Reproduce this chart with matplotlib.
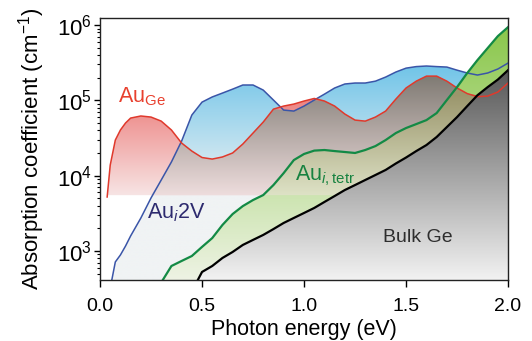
import numpy as np
import matplotlib
matplotlib.use('Agg')
import matplotlib.pyplot as plt

plt.rcParams['font.family'] = ['Liberation Sans', 'DejaVu Sans']
plt.rcParams['mathtext.fontset'] = 'custom'
plt.rcParams['mathtext.rm'] = 'Liberation Sans'
plt.rcParams['mathtext.it'] = 'Liberation Sans:italic'
plt.rcParams['mathtext.bf'] = 'Liberation Sans:bold'
plt.rcParams['mathtext.sf'] = 'Liberation Sans'

# photon energy (eV), common grid for all curves
energy = [0.035, 0.05, 0.075, 0.10, 0.125, 0.15, 0.20, 0.25, 0.30, 0.35, 0.40, 0.45,
          0.50, 0.55, 0.60, 0.65, 0.70, 0.75, 0.80, 0.85, 0.90, 0.95, 1.00, 1.05,
          1.10, 1.15, 1.20, 1.25, 1.30, 1.35, 1.40, 1.45, 1.50, 1.55, 1.60, 1.65,
          1.70, 1.75, 1.80, 1.85, 1.90, 1.95, 2.00]

# absorption coefficient (cm^-1)
au_ge = [5200, 13800, 29700, 40400, 50000, 58200, 62000, 60000, 53000, 40400, 27100, 21200,
         17400, 16600, 17700, 20000, 26300, 36800, 51500, 76500, 84000, 89300, 98000, 106000,
         98000, 84000, 65800, 54700, 53000, 60000, 72100, 104000, 146000, 180000, 210000, 210000,
         180000, 146000, 123000, 112000, 114000, 129000, 170000]

au_i2v = [np.nan, 320, 713, 883, 1160, 1580, 2730, 5050, 8750, 15200, 28800, 63800,
          94800, 111000, 125000, 141000, 160000, 160000, 137000, 101000, 74300, 72100, 84000, 101000,
          121000, 146000, 165000, 170000, 170000, 180000, 204000, 238000, 268000, 281000, 286000, 281000,
          277000, 252000, 231000, 217000, 231000, 261000, 313000]

au_itetr = [np.nan, np.nan, np.nan, np.nan, np.nan, np.nan, np.nan, np.nan, 380, 630, 735, 855,
            1130, 1480, 2210, 3090, 3940, 4740, 5520, 7500, 10800, 16100, 19400, 21500,
            21900, 21200, 20600, 20000, 21900, 24700, 29700, 36800, 42900, 48400, 54700, 67800,
            101000, 150000, 231000, 343000, 495000, 714000, 940000]

bulk_ge = [np.nan, np.nan, np.nan, np.nan, np.nan, np.nan, np.nan, np.nan, np.nan, np.nan, np.nan, 290,
           525, 630, 805, 968, 1200, 1400, 1630, 1950, 2350, 2740, 3190, 3720,
           4470, 5360, 6440, 7500, 8750, 10200, 11900, 14500, 17400, 21200, 25500, 32600,
           44200, 60000, 84000, 117000, 150000, 189000, 252000]

cutoff = 5500  # lower edge of the Au_Ge / Au_i2V shading

E = np.array(energy)
red = np.nan_to_num(np.array(au_ge, float), nan=1.0)
blue = np.nan_to_num(np.array(au_i2v, float), nan=1.0)
green = np.nan_to_num(np.array(au_itetr, float), nan=1.0)
black = np.nan_to_num(np.array(bulk_ge, float), nan=1.0)

ymin, ymax = 411, 1.24e6

fig = plt.figure(figsize=(5.32, 3.41), dpi=100)
ax = fig.add_axes([0.188, 0.179, 0.767, 0.768])
ax.set_yscale('log')
ax.set_xlim(0, 2)
ax.set_ylim(ymin, ymax)
ax.set_autoscale_on(False)


def to_frac(v):
    return (np.log10(v) - np.log10(ymin)) / (np.log10(ymax) - np.log10(ymin))


def grad_fill(lo, hi, c_top, v_top, c_bot, v_bot, z):
    poly = ax.fill_between(E, lo, hi, facecolor='none', edgecolor='none', linewidth=0)
    f = np.linspace(0, 1, 400)
    ft, fb = to_frac(v_top), to_frac(v_bot)
    t = np.clip((f - fb) / (ft - fb), 0, 1)[:, None]
    rgb = (np.array(c_bot) + t * (np.array(c_top) - np.array(c_bot))) / 255.0
    im = ax.imshow(rgb[:, None, :], extent=[0, 1, 0, 1], transform=ax.transAxes,
                   origin='lower', aspect='auto', interpolation='bilinear', zorder=z)
    im.set_clip_path(poly.get_paths()[0], transform=ax.transData)


floor = np.ones_like(E)
# Au_i2V shading
grad_fill(floor, blue, (112, 196, 232), 3e5, (240, 243, 244), cutoff, 1)
# Au_Ge shading
grad_fill(np.full_like(E, cutoff), np.maximum(red, cutoff), (236, 126, 124), 1.2e5, (247, 228, 228), cutoff, 2)
# where both overlap
grad_fill(np.full_like(E, cutoff), np.maximum(np.minimum(red, blue), cutoff),
          (128, 123, 116), 2.1e5, (238, 221, 221), cutoff, 3)
# Au_i,tetr shading
grad_fill(black, np.maximum(green, black), (140, 200, 78), 8e5, (238, 243, 228), ymin, 4)
base = np.maximum(black, cutoff)
grad_fill(base, np.maximum(np.minimum(green, red), base), (155, 150, 108), 1.2e5, (222, 226, 198), cutoff, 5)
# bulk Ge shading
grad_fill(floor, black, (88, 88, 88), 2.5e5, (242, 242, 242), ymin, 6)

ax.plot(E, au_i2v, color='#3a55a8', linewidth=1.1, zorder=7)
ax.plot(E, au_ge, color='#e0392c', linewidth=1.1, zorder=7)
ax.plot(E, au_itetr, color='#138a45', linewidth=1.6, zorder=8)
ax.plot(E, bulk_ge, color='black', linewidth=1.6, zorder=8)

ax.text(0.088, 9.5e4, r'Au$_{\rm Ge}$', color='#e8402e', fontsize=15.5, va='baseline', zorder=9)
ax.text(0.23, 2735, r'Au$_{\it i}$2V', color='#2d2a6e', fontsize=15.5, va='baseline', zorder=9)
ax.text(0.956, 8700, r'Au$_{\mathit{i},\mathrm{tetr}}$', color='#178240', fontsize=15.5,
        va='baseline', zorder=9)
ax.text(1.387, 1310, 'Bulk Ge', color='#2e2e2e', fontsize=14, va='baseline', zorder=9)

ax.set_xticks([0.0, 0.5, 1.0, 1.5, 2.0])
ax.set_xticklabels(['0.0', '0.5', '1.0', '1.5', '2.0'])
ax.tick_params(axis='x', labelsize=14, length=5, width=1, pad=8, direction='out')
ax.tick_params(axis='y', which='major', labelsize=16, length=4, width=1, pad=2, direction='out')
ax.tick_params(axis='y', which='minor', length=2.5, width=0.8, direction='out')
for s in ax.spines.values():
    s.set_linewidth(1.0)
    s.set_color('#222222')
    s.set_zorder(10)

ax.set_xlabel('Photon energy (eV)', fontsize=15.5, labelpad=3)
ax.set_ylabel('Absorption coefficient (cm$^{-1}$)', fontsize=16, labelpad=7)

fig.savefig('out.png', dpi=100)
